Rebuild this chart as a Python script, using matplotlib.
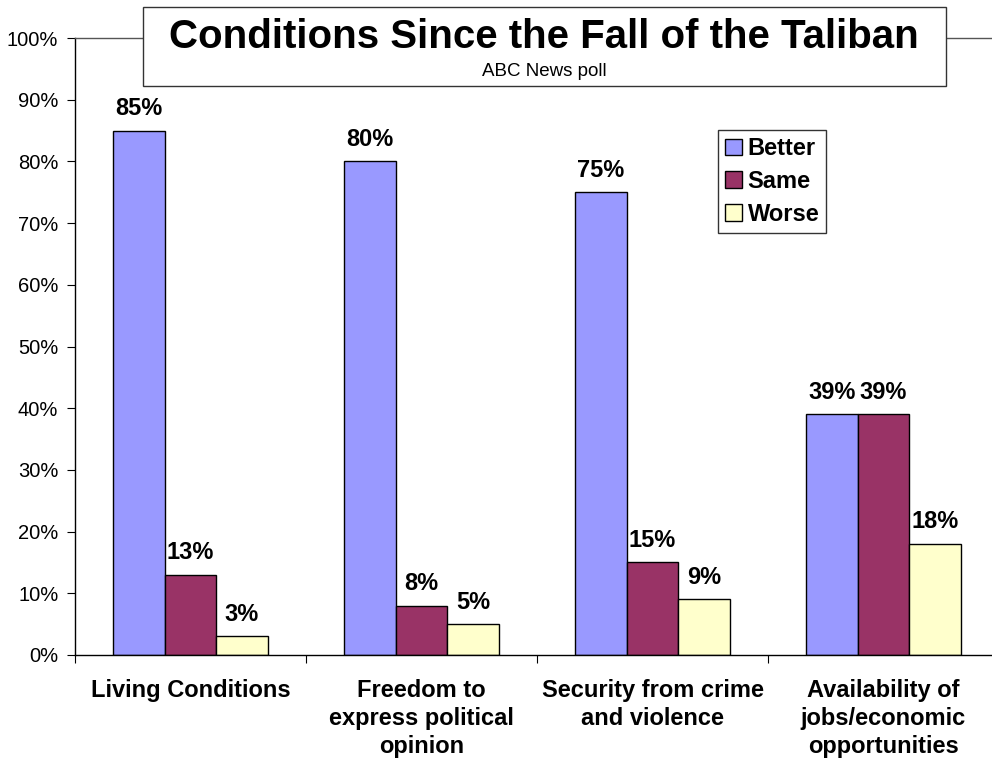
import numpy as np
import matplotlib.pyplot as plt
from matplotlib.patches import Rectangle

plt.rcParams['font.family'] = ['Liberation Sans', 'DejaVu Sans']

categories = ["Living Conditions", "Freedom to\nexpress political\nopinion",
              "Security from crime\nand violence", "Availability of\njobs/economic\nopportunities"]
series_names = ["Better", "Same", "Worse"]
better = [85, 80, 75, 39]
same = [13, 8, 15, 39]
worse = [3, 5, 9, 18]
colors = ["#9999FF", "#993366", "#FFFFCC"]

fig = plt.figure(figsize=(9.92, 7.6), dpi=100)
ax = fig.add_axes([75 / 992, 105 / 760, 924 / 992, 617 / 760])

x = np.arange(len(categories))
w = 0.223
for i, (vals, name, c) in enumerate(zip([better, same, worse], series_names, colors)):
    pos = x + (i - 1) * w
    ax.bar(pos, vals, width=w, color=c, edgecolor="black", linewidth=1, label=name)
    for p, v in zip(pos, vals):
        ax.text(p, v + 1.7, f"{v}%", ha="center", va="bottom",
                fontsize=17, fontweight="bold")

ax.set_xlim(-0.5, len(categories) - 0.5)
ax.set_ylim(0, 100)
ax.set_yticks(np.arange(0, 101, 10))
ax.set_yticklabels([f"{t}%" for t in range(0, 101, 10)], fontsize=14.5)
ax.set_xticks(np.arange(-0.5, len(categories), 1.0))
ax.set_xticklabels([])
ax.set_xticks(x, minor=True)
ax.set_xticklabels(categories, minor=True, fontsize=17, fontweight="bold",
                   linespacing=1.3, va="top")
ax.tick_params(axis="x", which="minor", length=0, pad=17)
ax.tick_params(axis="x", which="major", length=6, direction="out")
ax.tick_params(axis="y", length=6, direction="out", pad=6)
ax.spines["right"].set_visible(False)
for s in ["left", "bottom", "top"]:
    ax.spines[s].set_linewidth(1)
    ax.spines[s].set_color("black")
ax.spines["top"].set_color("#555555")

leg = ax.legend(loc="upper left", bbox_to_anchor=((718 - 75) / 924, (655 - 130) / 617),
                frameon=True, fancybox=False, edgecolor="black",
                prop={"weight": "bold", "size": 17}, handlelength=0.7,
                handleheight=0.7, handletextpad=0.25, borderpad=0.3,
                labelspacing=0.42, borderaxespad=0)
leg.get_frame().set_linewidth(1)

# title box
fig.patches.append(Rectangle((143 / 992, 1 - 86 / 760), (946 - 143) / 992, 79 / 760,
                             transform=fig.transFigure, facecolor="white",
                             edgecolor="#333333", linewidth=1, zorder=5))
fig.text(544 / 992, 1 - 37 / 760, "Conditions Since the Fall of the Taliban",
         ha="center", va="center", fontsize=29, fontweight="bold", zorder=6)
fig.text(544 / 992, 1 - 72 / 760, "ABC News poll", ha="center", va="center",
         fontsize=13.5, zorder=6)

fig.savefig("out.png", dpi=100)
